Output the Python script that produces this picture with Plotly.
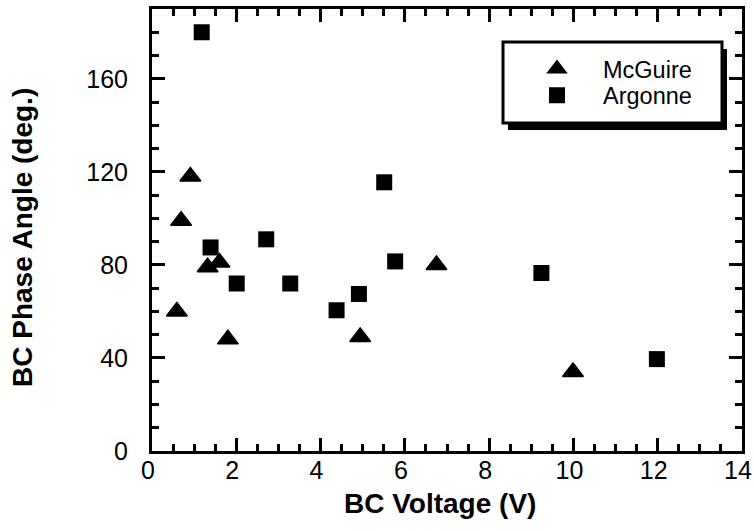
import plotly.graph_objects as go

# ---- data ----
mcguire_v = [0.59, 0.69, 0.91, 1.32, 1.60, 1.80, 4.94, 6.75, 9.99]
mcguire_deg = [60, 99, 118, 79, 81, 48, 49, 80, 34]

argonne_v = [1.18, 1.39, 2.01, 2.71, 3.28, 4.38, 4.91, 5.51, 5.77, 9.24, 11.98]
argonne_deg = [180, 87.5, 72, 91, 72, 60.5, 67.5, 115.5, 81.5, 76.5, 39.5]

x_ticks = [0, 2, 4, 6, 8, 10, 12, 14]
y_ticks = [0, 40, 80, 120, 160]

FONT = "Liberation Sans, Arial, Helvetica, sans-serif"

# plot-area geometry (pixels)
W, H = 754, 531
L, R, T, B = 152, 742, 9, 451


def px(xp):
    return (xp - L) / (R - L)


def py(yp):
    return (B - yp) / (B - T)


fig = go.Figure()
fig.add_trace(go.Scatter(
    x=mcguire_v, y=mcguire_deg, mode="markers", name="McGuire",
    legend="legend",
    marker=dict(symbol="triangle-up", size=18, color="black",
                line=dict(color="black", width=1.5)),
))
fig.add_trace(go.Scatter(
    x=argonne_v, y=argonne_deg, mode="markers", name="Argonne",
    legend="legend2",
    marker=dict(symbol="square", size=16, color="black",
                line=dict(color="black", width=0)),
))

axis_common = dict(
    showgrid=False, zeroline=False, showline=True, linecolor="black",
    linewidth=3, mirror="ticks", ticks="inside", tickcolor="black",
    ticklen=13, tickwidth=2.5, ticklabeloverflow="allow", automargin=False,
    tickfont=dict(family=FONT, size=25, color="black"),
)

fig.update_xaxes(
    range=[0, 14], tickvals=x_ticks, ticktext=[str(v) for v in x_ticks],
    minor=dict(dtick=0.5, ticks="inside", ticklen=7, tickwidth=2.5,
               tickcolor="black"),
    ticklabelstandoff=-5, ticklabelshift=-4,
    **axis_common,
)
fig.update_yaxes(
    range=[0, 190], tickvals=y_ticks, ticktext=[str(v) for v in y_ticks],
    minor=dict(dtick=10, ticks="inside", ticklen=7, tickwidth=2.5,
               tickcolor="black"),
    ticklabelstandoff=16,
    **axis_common,
)

# legend frame with drop shadow
shadow_dx, shadow_dy = 5, 7
box = (503, 42, 722, 123)
fig.add_shape(type="rect", xref="paper", yref="paper",
              x0=px(box[0] + shadow_dx), x1=px(box[2] + shadow_dx),
              y0=py(box[3] + shadow_dy), y1=py(box[1] + shadow_dy),
              fillcolor="black", line=dict(color="black", width=0),
              layer="above")
fig.add_shape(type="rect", xref="paper", yref="paper",
              x0=px(box[0]), x1=px(box[2]), y0=py(box[3]), y1=py(box[1]),
              fillcolor="white", line=dict(color="black", width=3),
              layer="above")

fig.add_annotation(text="<b>BC Voltage (V)</b>", xref="paper", yref="paper",
                   x=px(440), y=py(503), showarrow=False,
                   xanchor="center", yanchor="middle",
                   font=dict(family=FONT, size=28, color="black"))
fig.add_annotation(text="<b>BC Phase Angle (deg.)</b>", xref="paper",
                   yref="paper", x=px(23), y=py(238), showarrow=False,
                   textangle=-90, xanchor="center", yanchor="middle",
                   font=dict(family=FONT, size=28, color="black"))

legend_common = dict(
    xanchor="left", yanchor="top", bgcolor="rgba(0,0,0,0)", borderwidth=0,
    itemwidth=82, itemsizing="trace",
    font=dict(family=FONT, size=23.5, color="black"),
)

fig.update_layout(
    width=W, height=H, autosize=False,
    margin=dict(l=L, r=W - R, t=T, b=H - B, pad=0, autoexpand=False),
    paper_bgcolor="white", plot_bgcolor="white",
    showlegend=True,
    legend=dict(x=px(511), y=py(47), **legend_common),
    legend2=dict(x=px(511), y=py(73.5), **legend_common),
)

fig.write_html(
    "out.html",
    config={"responsive": False, "displayModeBar": False},
    post_script="document.body.style.margin='0px';"
                "document.body.style.padding='0px';"
                "document.body.style.overflow='hidden';",
)
